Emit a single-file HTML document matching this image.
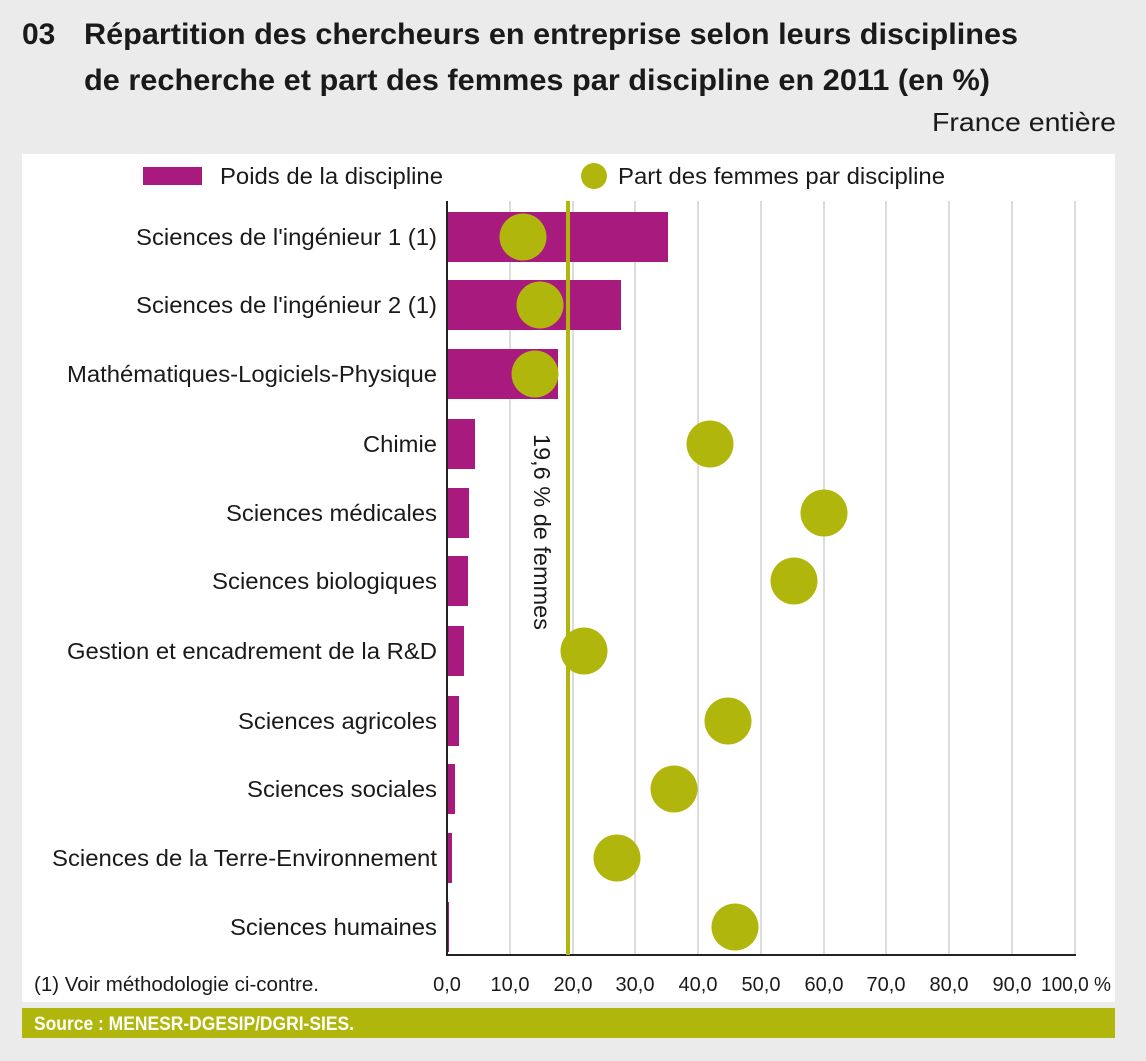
<!DOCTYPE html>
<html><head><meta charset="utf-8"><style>
body{margin:0;background:#ebebeb;}
svg{display:block;font-family:"Liberation Sans",sans-serif;}
</style></head><body>
<svg width="1146" height="1061" viewBox="0 0 1146 1061">
<rect width="1146" height="1061" fill="#ebebeb"/>
<g font-weight="bold" font-size="30" fill="#1a1a1a">
<text x="22" y="44">03</text>
<text x="84" y="44" textLength="934" lengthAdjust="spacingAndGlyphs">Répartition des chercheurs en entreprise selon leurs disciplines</text>
<text x="84" y="90" textLength="906" lengthAdjust="spacingAndGlyphs">de recherche et part des femmes par discipline en 2011 (en %)</text>
</g>
<text x="1116" y="131" font-size="26" text-anchor="end" fill="#1a1a1a" textLength="184" lengthAdjust="spacingAndGlyphs">France entière</text>
<rect x="22" y="154" width="1093" height="848" fill="#fff"/>
<rect x="143" y="167" width="59" height="18" fill="#a91a7f"/>
<text x="220" y="184" font-size="23" fill="#1a1a1a" textLength="223" lengthAdjust="spacingAndGlyphs">Poids de la discipline</text>
<circle cx="594" cy="176" r="13" fill="#b1b60c"/>
<text x="618" y="184" font-size="23" fill="#1a1a1a" textLength="327" lengthAdjust="spacingAndGlyphs">Part des femmes par discipline</text>
<g stroke="#b8b8b8" stroke-width="1">
<line x1="510" y1="201" x2="510" y2="955"/><line x1="573" y1="201" x2="573" y2="955"/>
<line x1="635" y1="201" x2="635" y2="955"/><line x1="698" y1="201" x2="698" y2="955"/>
<line x1="761" y1="201" x2="761" y2="955"/><line x1="824" y1="201" x2="824" y2="955"/>
<line x1="886" y1="201" x2="886" y2="955"/><line x1="949" y1="201" x2="949" y2="955"/>
<line x1="1012" y1="201" x2="1012" y2="955"/><line x1="1075" y1="201" x2="1075" y2="955"/>
</g>
<g fill="#a91a7f">
<rect x="447" y="212" width="221" height="50"/>
<rect x="447" y="280" width="174" height="50"/>
<rect x="447" y="349" width="111" height="50"/>
<rect x="447" y="419" width="28" height="50"/>
<rect x="447" y="488" width="22" height="50"/>
<rect x="447" y="556" width="21" height="50"/>
<rect x="447" y="626" width="17" height="50"/>
<rect x="447" y="696" width="12" height="50"/>
<rect x="447" y="764" width="8" height="50"/>
<rect x="447" y="833" width="5" height="50"/>
<rect x="447" y="902" width="2" height="50"/>
</g>
<line x1="447" y1="201" x2="447" y2="956" stroke="#222" stroke-width="2"/>
<line x1="446" y1="955" x2="1076" y2="955" stroke="#222" stroke-width="2"/>
<line x1="568" y1="201" x2="568" y2="955" stroke="#b1b60c" stroke-width="4"/>
<text transform="translate(534,434) rotate(90)" font-size="23" fill="#1a1a1a" textLength="196" lengthAdjust="spacingAndGlyphs">19,6 % de femmes</text>
<g fill="#b1b60c">
<circle cx="523" cy="237" r="23.5"/><circle cx="540" cy="305" r="23.5"/>
<circle cx="535" cy="374" r="23.5"/><circle cx="710" cy="444" r="23.5"/>
<circle cx="824" cy="513" r="23.5"/><circle cx="794" cy="581" r="23.5"/>
<circle cx="584" cy="651" r="23.5"/><circle cx="728" cy="721" r="23.5"/>
<circle cx="674" cy="789" r="23.5"/><circle cx="617" cy="858" r="23.5"/>
<circle cx="735" cy="927" r="23.5"/>
</g>
<g font-size="23" fill="#1a1a1a" text-anchor="end">
<text x="437" y="245" textLength="301" lengthAdjust="spacingAndGlyphs">Sciences de l'ingénieur 1 (1)</text>
<text x="437" y="313" textLength="301" lengthAdjust="spacingAndGlyphs">Sciences de l'ingénieur 2 (1)</text>
<text x="437" y="382" textLength="370" lengthAdjust="spacingAndGlyphs">Mathématiques-Logiciels-Physique</text>
<text x="437" y="452" textLength="74" lengthAdjust="spacingAndGlyphs">Chimie</text>
<text x="437" y="521" textLength="211" lengthAdjust="spacingAndGlyphs">Sciences médicales</text>
<text x="437" y="589" textLength="225" lengthAdjust="spacingAndGlyphs">Sciences biologiques</text>
<text x="437" y="659" textLength="370" lengthAdjust="spacingAndGlyphs">Gestion et encadrement de la R&amp;D</text>
<text x="437" y="729" textLength="199" lengthAdjust="spacingAndGlyphs">Sciences agricoles</text>
<text x="437" y="797" textLength="190" lengthAdjust="spacingAndGlyphs">Sciences sociales</text>
<text x="437" y="866" textLength="385" lengthAdjust="spacingAndGlyphs">Sciences de la Terre-Environnement</text>
<text x="437" y="935" textLength="207" lengthAdjust="spacingAndGlyphs">Sciences humaines</text>
</g>
<text x="34" y="991" font-size="20" fill="#1a1a1a" textLength="285" lengthAdjust="spacingAndGlyphs">(1) Voir méthodologie ci-contre.</text>
<g font-size="20" fill="#1a1a1a" text-anchor="middle">
<text x="447" y="991">0,0</text><text x="510" y="991">10,0</text><text x="573" y="991">20,0</text>
<text x="635" y="991">30,0</text><text x="698" y="991">40,0</text><text x="761" y="991">50,0</text>
<text x="824" y="991">60,0</text><text x="886" y="991">70,0</text><text x="949" y="991">80,0</text>
<text x="1012" y="991">90,0</text><text x="1076" y="991" textLength="70" lengthAdjust="spacingAndGlyphs">100,0 %</text>
</g>
<rect x="22" y="1008" width="1093" height="30" fill="#b1b60c"/>
<text x="34" y="1030" font-size="19" font-weight="bold" fill="#fff" textLength="320" lengthAdjust="spacingAndGlyphs">Source : MENESR-DGESIP/DGRI-SIES.</text>
</svg>
</body></html>
